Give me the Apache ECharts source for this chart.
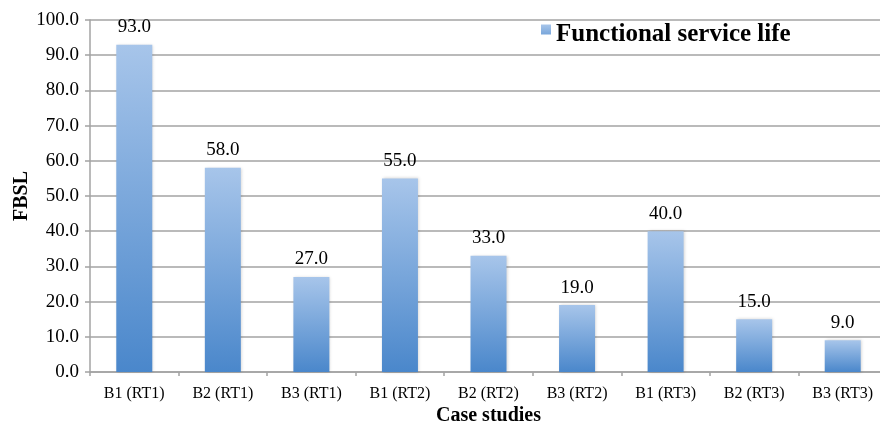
<!DOCTYPE html>
<html>
<head>
<meta charset="utf-8">
<script src="https://cdn.jsdelivr.net/npm/echarts@6/dist/echarts.min.js"></script>
<style>
  html, body { margin: 0; padding: 0; background: #fff; }
  #chart { width: 880px; height: 427px; }
</style>
</head>
<body>
<div id="chart"></div>
<script>
// Case studies on the x axis, functional service life (FBSL) per case
const categories = ['B1 (RT1)', 'B2 (RT1)', 'B3 (RT1)', 'B1 (RT2)', 'B2 (RT2)', 'B3 (RT2)', 'B1 (RT3)', 'B2 (RT3)', 'B3 (RT3)'];
const serviceLife = [93.0, 58.0, 27.0, 55.0, 33.0, 19.0, 40.0, 15.0, 9.0];
const seriesName = 'Functional service life';
const yTicks = { min: 0, max: 100, interval: 10 };

const serif = "'Liberation Serif', 'Times New Roman', serif";
const gridGray = '#a3a3a3';

const chart = echarts.init(document.getElementById('chart'), null, { renderer: 'canvas' });

const barFill = new echarts.graphic.LinearGradient(0, 0, 0, 1, [
  { offset: 0, color: '#a7c5ea' },
  { offset: 1, color: '#4a87cb' }
]);

chart.setOption({
  animation: false,
  backgroundColor: '#fff',
  textStyle: { fontFamily: serif, color: '#000' },
  // plot area runs slightly past the right edge of the canvas
  grid: {
    left: 90, width: 797, top: 20, height: 352,
    containLabel: false,
    outerBoundsMode: 'none'
  },
  legend: {
    data: [seriesName],
    left: 541,
    top: 22,
    padding: 0,
    itemWidth: 10,
    itemHeight: 20,
    itemGap: 5,
    // square marker sitting in the upper half of the item box
    icon: 'path://M0,0L10,0L10,10L0,10Z M0,20L0.01,20L0.01,19.99Z',
    textStyle: {
      fontFamily: serif,
      fontSize: 25,
      fontWeight: 'bold',
      color: '#000'
    }
  },
  xAxis: {
    type: 'category',
    data: categories,
    name: 'Case studies',
    nameLocation: 'middle',
    nameGap: 34,
    nameMoveOverlap: false,
    nameTextStyle: { fontFamily: serif, fontSize: 20, fontWeight: 'bold', color: '#000' },
    axisLine: { show: true, lineStyle: { color: gridGray, width: 1.5 } },
    axisTick: { show: true, length: 4, lineStyle: { color: gridGray, width: 1.5 } },
    axisLabel: { fontFamily: serif, fontSize: 16, color: '#000', margin: 14, interval: 0 },
    splitLine: { show: false }
  },
  yAxis: {
    type: 'value',
    min: yTicks.min,
    max: yTicks.max,
    interval: yTicks.interval,
    name: 'FBSL',
    nameLocation: 'middle',
    nameRotate: 90,
    nameGap: 58,
    nameMoveOverlap: false,
    nameTextStyle: { fontFamily: serif, fontSize: 20, fontWeight: 'bold', color: '#000' },
    axisLine: { show: true, lineStyle: { color: gridGray, width: 1.5 } },
    axisTick: { show: true, inside: false, length: 5, lineStyle: { color: gridGray, width: 1.5 } },
    axisLabel: {
      fontFamily: serif, fontSize: 19, color: '#000', margin: 11,
      formatter: v => v.toFixed(1)
    },
    splitLine: { show: true, lineStyle: { color: gridGray, width: 1.5 } }
  },
  series: [{
    name: seriesName,
    type: 'bar',
    data: serviceLife,
    barWidth: 36,
    itemStyle: {
      color: barFill,
      shadowColor: 'rgba(0,0,0,0.18)',
      shadowBlur: 3,
      shadowOffsetX: 1,
      shadowOffsetY: 0
    },
    label: {
      show: true,
      position: 'top',
      distance: 8,
      fontFamily: serif,
      fontSize: 19,
      color: '#000',
      formatter: p => p.value.toFixed(1)
    }
  }]
});
</script>
</body>
</html>
